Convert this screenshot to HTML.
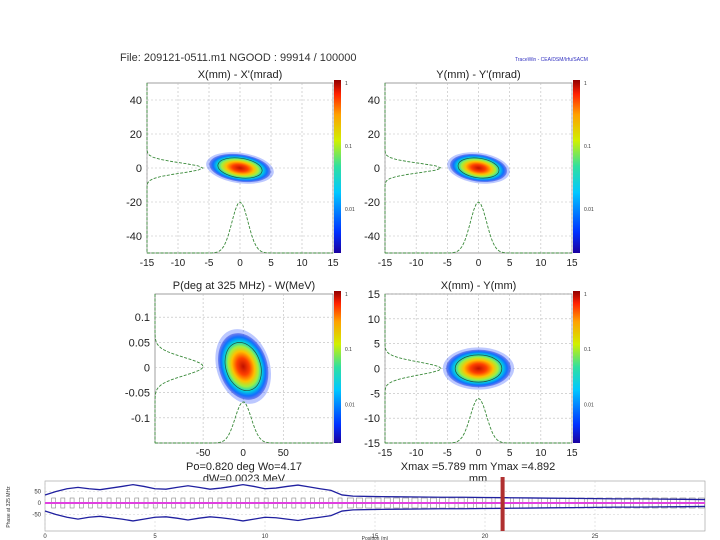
<!DOCTYPE html>
<html><head><meta charset="utf-8">
<style>
body{margin:0;background:#fff;}
svg{display:block;font-family:"Liberation Sans",sans-serif;}
</style></head>
<body>
<svg id="c" width="720" height="540" viewBox="0 0 720 540">
<defs>
<linearGradient id="jet" x1="0" y1="1" x2="0" y2="0">
<stop offset="0" stop-color="#1a00a0"/><stop offset="0.12" stop-color="#0030ff"/>
<stop offset="0.35" stop-color="#00c8ff"/><stop offset="0.5" stop-color="#30e0a0"/>
<stop offset="0.65" stop-color="#d0f000"/><stop offset="0.8" stop-color="#ffa000"/>
<stop offset="0.92" stop-color="#ff2000"/><stop offset="1" stop-color="#900000"/>
</linearGradient>
<radialGradient id="blob">
<stop offset="0" stop-color="#c01000"/><stop offset="0.25" stop-color="#ff4000"/>
<stop offset="0.45" stop-color="#ffc000"/><stop offset="0.6" stop-color="#a0f040"/>
<stop offset="0.75" stop-color="#00d0e0"/><stop offset="0.88" stop-color="#1070ff"/>
<stop offset="1" stop-color="#3040e0" stop-opacity="0.5"/>
</radialGradient>
</defs>
<text x="120" y="61" font-size="11" fill="#333">File: 209121-0511.m1   NGOOD : 99914 / 100000</text>
<text x="515" y="61" font-size="5" fill="#3030c0">TraceWin - CEA/DSM/Irfu/SACM</text>
<g id="panels"></g>
<g id="strip"></g>
</svg>
<script>
// phase-space panels
const panelTitles = ["X(mm) - X'(mrad)", "Y(mm) - Y'(mrad)", "P(deg at 325 MHz) - W(MeV)", "X(mm) - Y(mm)"];
const xTicks = [[-15,-10,-5,0,5,10,15],[-15,-10,-5,0,5,10,15],[-50,0,50],[-15,-10,-5,0,5,10,15]];
const yTicks = [[-40,-20,0,20,40],[-40,-20,0,20,40],[-0.1,-0.05,0,0.05,0.1],[-15,-10,-5,0,5,10,15]];
const xRanges = [[-15,15],[-15,15],[-110,112],[-15,15]];
const yRanges = [[-50,50],[-50,50],[-0.15,0.146],[-15,15]];
// beam ellipse: center x, center y, semi x, semi y, tilt deg (data units)
const beamCx = [0,0,0,0], beamCy = [0,0,0.002,0];
const beamSx = [5,4.6,30,5.2], beamSy = [8,8,0.068,3.8], beamTilt = [8,8,-18,0];
// projection peaks (data units) and widths
const projXPeak = [-20,-20,-0.068,-6], projYPeak = [-6,-6,-50,-6];
const projXSig = [1.3,1.3,10,1.3], projYSig = [3,2.8,0.018,1.3];
const boxes = [[147,83,333,253],[385,83,572,253],[155,294,333,443],[385,294,572,443]];
const NS='http://www.w3.org/2000/svg';
function mk(t,a,p){const e=document.createElementNS(NS,t);for(const k in a)e.setAttribute(k,a[k]);p.appendChild(e);return e;}
const P=document.getElementById('panels');
boxes.forEach((b,i)=>{
  const g=mk('g',{},P);
  
  
  const [x0,y0,x1,y1]=b;
  const sx=v=>x0+(v-xRanges[i][0])/(xRanges[i][1]-xRanges[i][0])*(x1-x0);
  const sy=v=>y1-(v-yRanges[i][0])/(yRanges[i][1]-yRanges[i][0])*(y1-y0);
  mk('rect',{x:x0,y:y0,width:x1-x0,height:y1-y0,fill:'#fff',stroke:'#888','stroke-width':0.8},g);
  xTicks[i].forEach(v=>{const x=sx(v);
    mk('line',{x1:x,y1:y0,x2:x,y2:y1,stroke:'#bbb','stroke-dasharray':'2,2','stroke-width':0.6},g);
    const t=mk('text',{x:x,y:y1+13,'font-size':10,'text-anchor':'middle',fill:'#222'},g);t.textContent=v;
    });
  yTicks[i].forEach(v=>{const y=sy(v);
    mk('line',{x1:x0,y1:y,x2:x1,y2:y,stroke:'#bbb','stroke-dasharray':'2,2','stroke-width':0.6},g);
    const t=mk('text',{x:x0-5,y:y+4,'font-size':11,'text-anchor':'end',fill:'#222'},g);t.textContent=v;
    });
  const tt=mk('text',{x:(x0+x1)/2,y:y0-5,'font-size':11,'text-anchor':'middle',fill:'#222'},g);tt.textContent=panelTitles[i];
  
  // beam
  const cx=sx(beamCx[i]),cy=sy(beamCy[i]);
  const rx=Math.abs(sx(beamSx[i])-sx(0)),ry=Math.abs(sy(beamSy[i])-sy(0));
  mk('ellipse',{cx:cx,cy:cy,rx:rx*1.1,ry:ry*1.12,fill:'#4060ff','fill-opacity':0.35,transform:`rotate(${beamTilt[i]} ${cx} ${cy})`},g);
  const e=mk('ellipse',{cx:cx,cy:cy,rx:rx,ry:ry,fill:'url(#blob)',transform:`rotate(${beamTilt[i]} ${cx} ${cy})`},g);
  
  mk('ellipse',{cx:cx,cy:cy,rx:rx*0.72,ry:ry*0.72,fill:'none',stroke:'#205040','stroke-width':0.7,transform:`rotate(${beamTilt[i]} ${cx} ${cy})`},g);
  // bottom projection (x distribution)
  let d='';const peakY=sy(projXPeak[i]);
  for(let k=0;k<=80;k++){const x=x0+k*(x1-x0)/80;const u=(x-cx)/(Math.abs(sx(projXSig[i])-sx(0)));
    const y=y1-(y1-peakY)*Math.exp(-u*u/2);d+=(k?'L':'M')+x+','+y;}
  const p1=mk('path',{d:d,fill:'none',stroke:'#3a8a3a','stroke-dasharray':'3,1.5','stroke-width':0.9},g);
  
  // left projection (y distribution)
  d='';const peakX=sx(projYPeak[i]);
  for(let k=0;k<=80;k++){const y=y0+k*(y1-y0)/80;const u=(y-cy)/(Math.abs(sy(projYSig[i])-sy(0)));
    const x=x0+(peakX-x0)*Math.exp(-u*u/2);d+=(k?'L':'M')+x+','+y;}
  const p2=mk('path',{d:d,fill:'none',stroke:'#3a8a3a','stroke-dasharray':'3,1.5','stroke-width':0.9},g);
  
  // colorbar
  const cb=mk('rect',{x:x1+1,y:y0-3,width:7,height:y1-y0+3,fill:'url(#jet)'},g);
  
  [['1',0],['0.1',0.37],['0.01',0.74]].forEach(([l,f])=>{const t=mk('text',{x:x1+12,y:y0+f*(y1-y0)+2,'font-size':5,fill:'#333'},g);t.textContent=l;});
});
function lbl(x,y,s,n){const t=mk('text',{x:x,y:y,'font-size':11,'text-anchor':'middle',fill:'#222'},P);t.textContent=s;
  }
lbl(244,470,'Po=0.820 deg  Wo=4.17','phase-info');
lbl(244,482,'dW=0.0023 MeV','energy-spread');
lbl(478,470,'Xmax =5.789 mm  Ymax =4.892','max-info');
lbl(478,482,'mm','max-unit');

// bottom envelope strip
const posM = [0,0.5,1,1.5,2,2.5,3,3.5,4,4.5,5,5.5,6,6.5,7,7.5,8,8.5,9,9.5,10,10.5,11,11.5,12,12.5,13,13.5,14,15,16,17,18,19,20,21,22,23,24,25,26,27,28,29,30];
const envUp = [35,50,62,68,62,58,65,72,80,72,62,60,68,75,68,60,65,72,80,72,62,65,72,78,70,62,55,35,30,28,27,26,25,25,24,23,22,21,20,19,18,18,17,16,15];
const envLo = [-35,-50,-62,-70,-62,-58,-64,-70,-78,-70,-62,-60,-66,-74,-66,-60,-64,-70,-78,-70,-62,-64,-70,-76,-68,-62,-55,-35,-30,-28,-27,-26,-25,-25,-24,-23,-22,-21,-20,-19,-18,-18,-17,-16,-15];
const stripX=[0,5,10,15,20,25], stripY=[-50,0,50];
const markerPos=20.8;
const S=document.getElementById('strip');
const X0=45,X1=705,Y0=481,Y1=531;
const fx=v=>X0+v/30*(X1-X0), fy=v=>503-v*0.23;
mk('rect',{x:X0,y:Y0,width:X1-X0,height:Y1-Y0,fill:'#fff',stroke:'#999','stroke-width':0.6},S);
stripX.forEach(v=>{mk('line',{x1:fx(v),y1:Y0,x2:fx(v),y2:Y1,stroke:'#ccc','stroke-dasharray':'2,2','stroke-width':0.5},S);
  const t=mk('text',{x:fx(v),y:Y1+7,'font-size':6,'text-anchor':'middle',fill:'#333'},S);t.textContent=v;
  });
stripY.forEach(v=>{mk('line',{x1:X0,y1:fy(v),x2:X1,y2:fy(v),stroke:'#ccc','stroke-dasharray':'2,2','stroke-width':0.5},S);
  const t=mk('text',{x:X0-4,y:fy(v)+2,'font-size':6,'text-anchor':'end',fill:'#333'},S);t.textContent=v;
  });
const xl=mk('text',{x:375,y:540,'font-size':5,'text-anchor':'middle',fill:'#333'},S);xl.textContent='Position (m)';

const yl=mk('text',{x:10,y:507,'font-size':5,'text-anchor':'middle',fill:'#333',transform:'rotate(-90 10 507)'},S);yl.textContent='Phase at 325 MHz';

for(let m=0.3;m<29.8;m+=0.42){const w=m<13.5?4:6;mk('rect',{x:fx(m),y:498,width:w,height:10,fill:'none',stroke:'#888','stroke-width':0.6},S);}
const rl=mk('line',{x1:X0,y1:fy(0),x2:X1,y2:fy(0),stroke:'#e040e0','stroke-width':2},S);


['up','lo'].forEach((k,j)=>{const arr=j?envLo:envUp;let d='';arr.forEach((v,i)=>{d+=(i?'L':'M')+fx(posM[i])+','+fy(v);});
  const p=mk('path',{d:d,fill:'none',stroke:'#2020a0','stroke-width':1.3},S);
  });
const mkR=mk('rect',{x:fx(markerPos)-2,y:Y0-4,width:4,height:Y1-Y0+4,fill:'#b03030'},S);

</script>
</body></html>
